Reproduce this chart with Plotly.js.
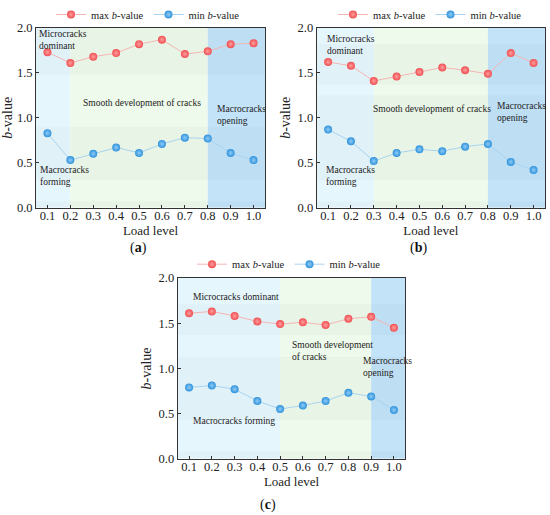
<!DOCTYPE html>
<html><head><meta charset="utf-8">
<script src="https://cdn.plot.ly/plotly-3.0.1.min.js"></script>
<style>body{margin:0;background:#fff}#chart{width:550px;height:515px}</style>
</head><body><div id="chart"></div>
<script>
var loadLevels = [0.1,0.2,0.3,0.4,0.5,0.6,0.7,0.8,0.9,1.0];
var tickLabels = ['0.1','0.2','0.3','0.4','0.5','0.6','0.7','0.8','0.9','1.0'];
var maxA = [1.73,1.61,1.68,1.72,1.82,1.87,1.71,1.74,1.82,1.83];
var minA = [0.83,0.53,0.60,0.67,0.61,0.71,0.78,0.77,0.61,0.53];
var maxB = [1.62,1.58,1.41,1.46,1.51,1.56,1.53,1.49,1.72,1.61];
var minB = [0.87,0.74,0.52,0.61,0.65,0.63,0.68,0.71,0.51,0.42];
var maxC = [1.61,1.63,1.58,1.52,1.49,1.51,1.48,1.55,1.57,1.45];
var minC = [0.79,0.81,0.77,0.64,0.55,0.59,0.64,0.73,0.69,0.54];
// stage boundaries (load level) for each panel
var stagesA = [0.2,0.8];
var stagesB = [0.3,0.8];
var stagesC = [0.5,0.9];

var FONT = 'Liberation Serif';
var RED = '#f04f52', BLUE = '#2f93dc';
var XR = [0.05,1.05];

function traces(maxV, minV, ax, lg){
  var xa = ax===1?'x':'x'+ax, ya = ax===1?'y':'y'+ax;
  return [
    {x:loadLevels,y:maxV,xaxis:xa,yaxis:ya,mode:'lines+markers',name:'max <i>b</i>-value',legend:lg,
     line:{color:'#f5b5b3',width:1},
     marker:{size:8,color:RED,gradient:{type:'radial',color:'#ff9d9d'},line:{width:0}}},
    {x:loadLevels,y:minV,xaxis:xa,yaxis:ya,mode:'lines+markers',name:'min <i>b</i>-value',legend:lg,
     line:{color:'#a9d3f0',width:1},
     marker:{size:8,color:BLUE,gradient:{type:'radial',color:'#8fcaf5'},line:{width:0}}}
  ];
}
var data = [].concat(traces(maxA,minA,1,'legend'), traces(maxB,minB,2,'legend2'), traces(maxC,minC,3,'legend3'));

var shapes = [];
function regions(ax, st, bands){
  var xa = ax===1?'x':'x'+ax, ya = ax===1?'y':'y'+ax;
  var cols = ['#e6f6fd','#eefaeb','#c3e3f9'];
  var edges = [XR[0], st[0], st[1], XR[1]];
  for (var i=0;i<3;i++) shapes.push({type:'rect',xref:xa,yref:ya,x0:edges[i],x1:edges[i+1],y0:0,y1:2,
      fillcolor:cols[i],line:{width:0},layer:'below'});
  bands.forEach(function(b){
    shapes.push({type:'rect',xref:xa,yref:ya,x0:XR[0],x1:XR[1],y0:b[0],y1:b[1],
      fillcolor:'rgba(0,40,60,0.025)',line:{width:0},layer:'below'});
  });
}
regions(1, stagesA, [[1.48,2.0],[0.31,0.9],[0,0.07]]);
regions(2, stagesB, [[1.37,1.82],[0.31,1.25],[0,0.07]]);
regions(3, stagesC, [[1.37,1.71],[0.43,1.13],[0,0.08]]);

function xaxis(dom, anchor){
  return {domain:dom, anchor:anchor, range:XR, tickvals:loadLevels, ticktext:tickLabels,
    ticks:'inside', ticklen:3, tickcolor:'#333', showgrid:false, zeroline:false,
    showline:true, linecolor:'#333', linewidth:1, mirror:true, ticklabelstandoff:-4,
    tickfont:{family:FONT,size:12.5,color:'#222'},
    title:{text:'Load level', font:{family:FONT,size:13,color:'#222'}, standoff:4}};
}
function yaxis(dom, anchor){
  return {domain:dom, anchor:anchor, range:[0,2], tickvals:[0,0.5,1,1.5,2], ticktext:['0.0','0.5','1.0','1.5','2.0'],
    ticks:'inside', ticklen:3, tickcolor:'#333', showgrid:false, zeroline:false,
    showline:true, linecolor:'#333', linewidth:1, mirror:true,
    tickfont:{family:FONT,size:12.5,color:'#222'},
    title:{text:'<i>b</i>-value', font:{family:FONT,size:14,color:'#222'}, standoff:3}};
}
function leg(xc, yb){
  return {orientation:'h', x:xc, xanchor:'center', y:yb, yanchor:'bottom', bgcolor:'rgba(0,0,0,0)',
    font:{family:FONT,size:10.5,color:'#222'}, itemwidth:30, tracegroupgap:0};
}
function ann(xa, ya, x, y, t, xanchor){
  return {xref:xa, yref:ya, x:x, y:y, text:t, showarrow:false, xanchor:xanchor||'left', yanchor:'middle',
    align:'left', font:{family:FONT,size:9.5,color:'#222'}};
}
var annotations = [
  ann('x','y',0.055,1.87,'Microcracks<br>dominant'),
  ann('x','y',0.515,1.17,'Smooth development of cracks','center'),
  ann('x','y',0.831,1.03,'Macrocracks<br>opening'),
  ann('x','y',0.059,0.357,'Macrocracks<br>forming'),
  ann('x2','y2',0.086,1.81,'Microcracks<br>dominant'),
  ann('x2','y2',0.555,1.10,'Smooth development of cracks','center'),
  ann('x2','y2',0.831,1.06,'Macrocracks<br>opening'),
  ann('x2','y2',0.081,0.351,'Macrocracks<br>forming'),
  ann('x3','y3',0.107,1.79,'Microcracks dominant'),
  ann('x3','y3',0.542,1.19,'Smooth development<br>of cracks'),
  ann('x3','y3',0.854,1.02,'Macrocracks<br>opening'),
  ann('x3','y3',0.107,0.42,'Macrocracks forming'),
  {xref:'paper',yref:'paper',x:138/550,y:1-243/515,xanchor:'center',yanchor:'middle',text:'(<b>a</b>)',showarrow:false,font:{family:FONT,size:14,color:'#111'}},
  {xref:'paper',yref:'paper',x:418/550,y:1-243/515,xanchor:'center',yanchor:'middle',text:'(<b>b</b>)',showarrow:false,font:{family:FONT,size:14,color:'#111'}},
  {xref:'paper',yref:'paper',x:268/550,y:1-505/515,xanchor:'center',yanchor:'middle',text:'(<b>c</b>)',showarrow:false,font:{family:FONT,size:14,color:'#111'}}
];

var layout = {
  width:550, height:515, margin:{l:0,r:0,t:0,b:0}, paper_bgcolor:'#fff', plot_bgcolor:'rgba(0,0,0,0)',
  font:{family:FONT},
  xaxis: xaxis([36/550,265/550],'y'),  yaxis: yaxis([1-201.7/515,1-18.3/515],'x'),
  xaxis2: xaxis([316.7/550,545/550],'y2'), yaxis2: yaxis([1-201.7/515,1-18.3/515],'x2'),
  xaxis3: xaxis([177.7/550,405.3/550],'y3'), yaxis3: yaxis([1-457.7/515,1-273.3/515],'x3'),
  legend: leg(148/550, 1-19/515), legend2: leg(430/550, 1-19/515), legend3: leg(289/550, 1-274/515),
  shapes: shapes, annotations: annotations, showlegend:true
};
Plotly.newPlot('chart', data, layout, {displayModeBar:false, staticPlot:true});
</script></body></html>
